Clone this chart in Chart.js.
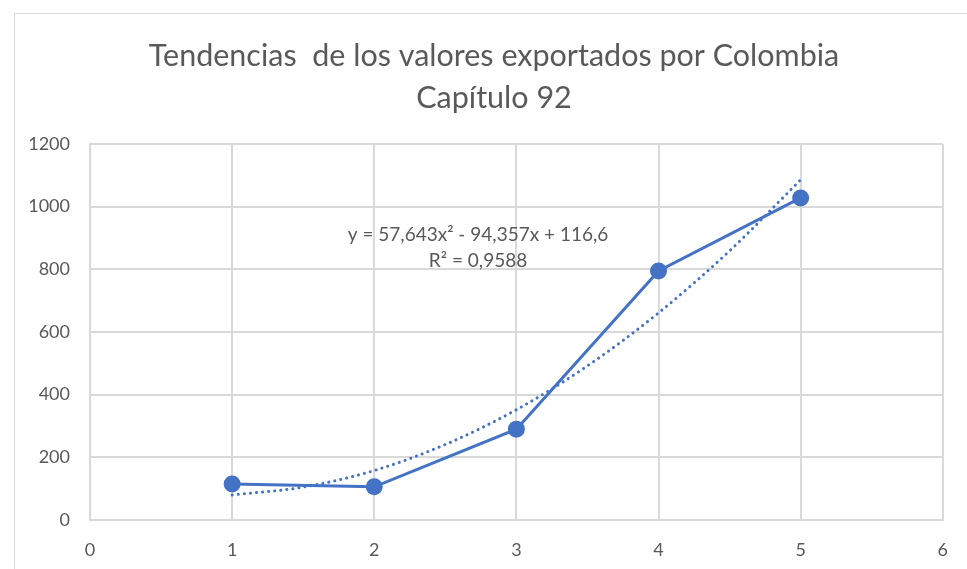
<!DOCTYPE html>
<html>
<head>
<meta charset="utf-8">
<script src="https://cdn.jsdelivr.net/npm/chart.js@4.4.0/dist/chart.umd.min.js"></script>
<style>
  html, body { margin: 0; padding: 0; background: #fff; }
  #wrap { width: 967px; height: 569px; }
</style>
</head>
<body>
<div id="wrap"><canvas id="myChart" width="967" height="569"></canvas></div>
<script>
// datos
var xValues = [1, 2, 3, 4, 5];
var exportValues = [115, 106, 290, 795, 1028];
// linea de tendencia (polinomica)
var trendX = [1, 1.5, 2, 2.5, 3, 3.5, 4, 4.5, 5];
var trendY = [80, 105, 158, 241, 352, 492, 661, 859, 1086];
var xTicks = [0, 1, 2, 3, 4, 5, 6];
var yTicks = [0, 200, 400, 600, 800, 1000, 1200];
var titleLines = ['Tendencias  de los valores exportados por Colombia', 'Capítulo 92'];
var equationLines = ['y = 57,643x² - 94,357x + 116,6', 'R² = 0,9588'];

var blue = '#4472C4';
var gridColor = '#d9d9d9';
var textColor = '#595959';
var fontFamily = 'Lato, "Open Sans", sans-serif';

// marco exterior y titulo (centrado como en Excel, sobre el marco)
var frame = {
    id: 'frame',
    beforeDraw: function (chart) {
        var c = chart.ctx;
        c.save();
        c.fillStyle = '#fff';
        c.fillRect(0, 0, chart.width, chart.height);
        c.strokeStyle = gridColor;
        c.lineWidth = 1;
        c.strokeRect(14.5, 13.5, chart.width, chart.height);
        c.fillStyle = textColor;
        c.font = '30.5px ' + fontFamily;
        c.textAlign = 'center';
        c.textBaseline = 'middle';
        c.fillText(titleLines[0], 494, 56);
        c.fillText(titleLines[1], 494, 98);
        c.restore();
    }
};

var equation = {
    id: 'equation',
    afterDatasetsDraw: function (chart) {
        var c = chart.ctx;
        var px = chart.scales.x.getPixelForValue(2.73);
        var py = chart.scales.y.getPixelForValue(910);
        c.save();
        c.fillStyle = textColor;
        c.font = '19px ' + fontFamily;
        c.textAlign = 'center';
        c.textBaseline = 'middle';
        c.fillText(equationLines[0], px, py);
        c.fillText(equationLines[1], px, py + 26);
        c.restore();
    }
};

var ctx = document.getElementById('myChart').getContext('2d');
var myChart = new Chart(ctx, {
    type: 'scatter',
    data: {
        datasets: [{
            label: 'Valores exportados',
            data: xValues.map(function (x, i) { return { x: x, y: exportValues[i] }; }),
            showLine: true,
            borderColor: blue,
            backgroundColor: blue,
            borderWidth: 3,
            pointRadius: 7,
            pointHoverRadius: 7,
            order: 1
        }, {
            label: 'Tendencia',
            data: trendX.map(function (x, i) { return { x: x, y: trendY[i] }; }),
            showLine: true,
            borderColor: blue,
            borderWidth: 3,
            borderDash: [0.1, 6],
            borderCapStyle: 'round',
            pointRadius: 0,
            tension: 0.4,
            cubicInterpolationMode: 'monotone',
            order: 2
        }]
    },
    options: {
        responsive: false,
        animation: false,
        layout: { padding: { left: 0, right: 18, top: 144, bottom: 0 } },
        plugins: {
            legend: { display: false },
            tooltip: { enabled: false },
            title: { display: false }
        },
        scales: {
            x: {
                type: 'linear',
                min: 0,
                max: 6,
                afterBuildTicks: function (scale) {
                    scale.ticks = xTicks.map(function (v) { return { value: v }; });
                },
                afterFit: function (scale) { scale.height = 49; },
                grid: { color: gridColor, lineWidth: 2, drawTicks: false },
                border: { color: gridColor, width: 2 },
                ticks: {
                    color: textColor, font: { family: fontFamily, size: 18 }, padding: 19,
                    callback: function (v) { return String(v); }
                }
            },
            y: {
                min: 0,
                max: 1200,
                afterBuildTicks: function (scale) {
                    scale.ticks = yTicks.map(function (v) { return { value: v }; });
                },
                afterFit: function (scale) { scale.width = 90; },
                grid: { color: gridColor, lineWidth: 2, drawTicks: false },
                border: { color: gridColor, width: 2 },
                ticks: {
                    color: textColor, font: { family: fontFamily, size: 18 }, padding: 20,
                    callback: function (v) { return String(v); }
                }
            }
        }
    },
    plugins: [frame, equation]
});
</script>
</body>
</html>
